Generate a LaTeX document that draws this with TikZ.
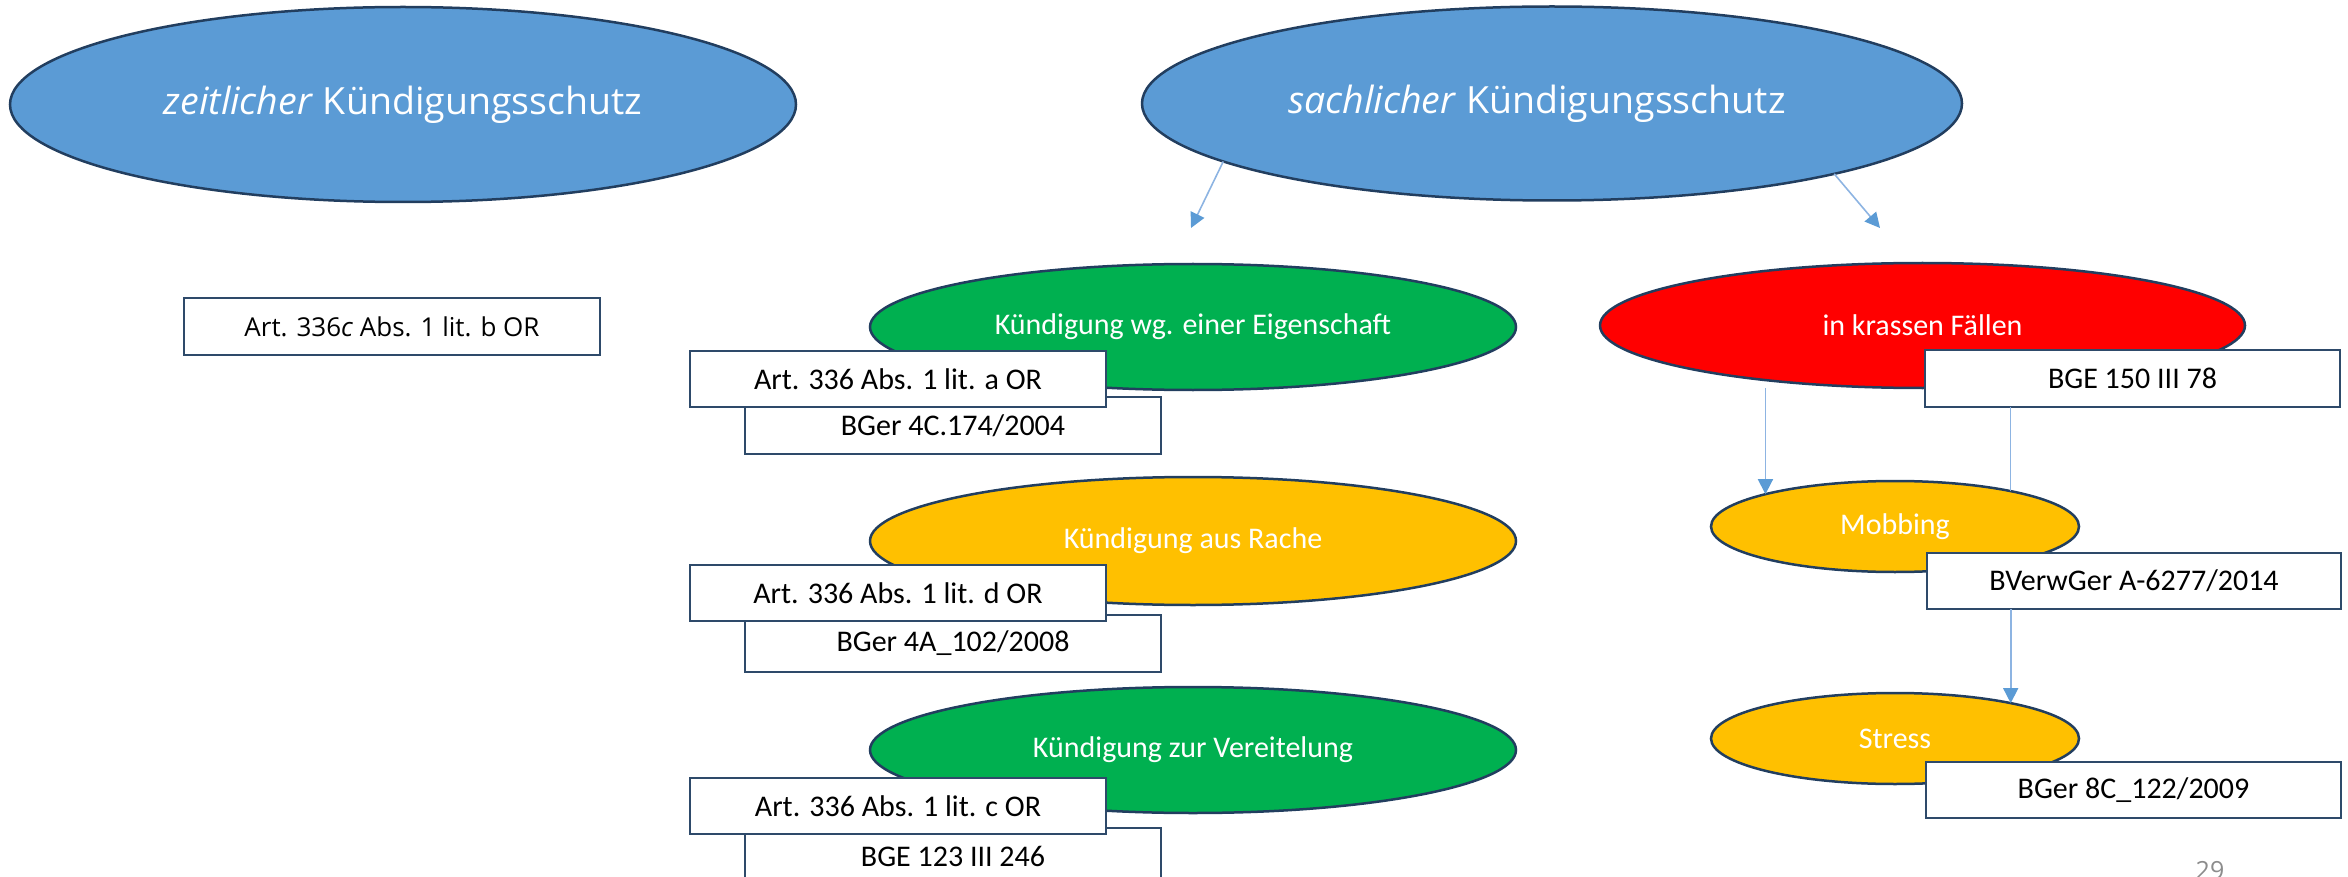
\documentclass[tikz,border=0pt]{standalone}
\usepackage{fontspec}
\setmainfont{Carlito}
\newfontfamily\widefont{Open Sans}
\usetikzlibrary{shapes.geometric,arrows.meta}

\definecolor{topblue}{HTML}{5B9BD5}
\definecolor{okgreen}{HTML}{00B050}
\definecolor{hotred}{HTML}{FF0000}
\definecolor{amber}{HTML}{FFC000}
\definecolor{rim}{HTML}{223E5F}
\definecolor{boxrim}{HTML}{2E4A6A}
\definecolor{linkblue}{HTML}{5B9BD5}
\definecolor{tieblue}{HTML}{8DB4E2}
\definecolor{pagegray}{HTML}{8C8C8C}

\begin{document}
\begin{tikzpicture}[x=1pt,y=-1pt,
  oval/.style={ellipse, draw=rim, line width=2.5pt, inner sep=0pt, outer sep=0pt,
    text=white, font=\fontsize{30}{36}\selectfont},
  bigoval/.style={oval, font=\widefont\fontsize{37.5}{44}\selectfont},
  refbox/.style={rectangle, draw=boxrim, line width=2.5pt, fill=white, inner sep=0pt,
    outer sep=0pt, text=black, font=\fontsize{30}{36}\selectfont},
  arr/.style={draw=tieblue, line width=1.6pt, -{Triangle[length=15pt,width=15pt,color=linkblue]}},
  tie/.style={draw=tieblue, line width=1.4pt}]
\path[use as bounding box] (0,0) rectangle (2348,877);
\clip (0,0) rectangle (2348,877);

% top level
\node[bigoval, fill=topblue, minimum width=786pt, minimum height=195pt] (zeit) at (403,104.5)
  {\textit{zeitlicher} Kündigungsschutz};
\node[bigoval, fill=topblue, minimum width=820pt, minimum height=194pt] (sach) at (1552,103.5)
  {\textit{sachlicher} Kündigungsschutz\hspace*{30pt}};

\node[refbox, font=\widefont\fontsize{26}{32}\selectfont, minimum width=416pt, minimum height=57pt]
  (lbox) at (392,326.5) {Art. 336\textit{c} Abs. 1 lit. b OR};

% arrows from the upper ellipse
\coordinate (t1) at (1191,228);
\coordinate (t2) at (1880,228);
\draw[arr] (sach.190.7) -- (t1);
\draw[arr] (sach.346.3) -- (t2);

% middle column
\node[oval, fill=okgreen, minimum width=646pt, minimum height=126pt] (eig) at (1193,327)
  {Kündigung wg. einer Eigenschaft};
\node[refbox, minimum width=416pt, minimum height=57pt] (bger4c) at (953,425.5) {BGer 4C.174/2004};
\node[refbox, minimum width=416pt, minimum height=56pt] (arta) at (898,379) {Art. 336 Abs. 1 lit. a OR};

\node[oval, fill=amber, minimum width=646pt, minimum height=128pt] (rache) at (1193,541)
  {Kündigung aus Rache};
\node[refbox, minimum width=416pt, minimum height=57pt] (bger4a) at (953,643.5) {BGer 4A\_102/2008};
\node[refbox, minimum width=416pt, minimum height=56pt] (artd) at (898,593) {Art. 336 Abs. 1 lit. d OR};

\node[oval, fill=okgreen, minimum width=646pt, minimum height=126pt] (ver) at (1193,750)
  {Kündigung zur Vereitelung};
\node[refbox, minimum width=416pt, minimum height=57pt] (bge123) at (953,856.5) {BGE 123 III 246};
\node[refbox, minimum width=416pt, minimum height=56pt] (artc) at (898,806) {Art. 336 Abs. 1 lit. c OR};

% right column
\node[oval, fill=hotred, minimum width=645pt, minimum height=125pt] (kras) at (1922.5,325.5)
  {in krassen Fällen};
\node[oval, fill=amber, minimum width=368pt, minimum height=91pt] (mob) at (1895,526.5) {Mobbing};
\node[oval, fill=amber, minimum width=368pt, minimum height=91pt] (stress) at (1895,738.5) {Stress};

\node[refbox, minimum width=415pt, minimum height=57pt] (bge150) at (2132.5,378.5) {BGE 150 III 78};
\node[refbox, minimum width=414pt, minimum height=56pt] (bverw) at (2134,581) {BVerwGer A-6277/2014};
\node[refbox, minimum width=415pt, minimum height=56pt] (bger8c) at (2133.5,790) {BGer 8C\_122/2009};

\draw[arr] (mob.166.1 |- kras.south) -- (mob.166.1);
\draw[tie] (mob.17.4 |- bge150.south) -- (mob.17.4);
\draw[arr] (stress.17.4 |- bverw.south) -- (stress.17.4);

% page number
\node[anchor=north, inner sep=0pt, text=pagegray, font=\widefont\fontsize{25}{30}\selectfont]
  (pnum) at (2210,861) {29};
\end{tikzpicture}
\end{document}
